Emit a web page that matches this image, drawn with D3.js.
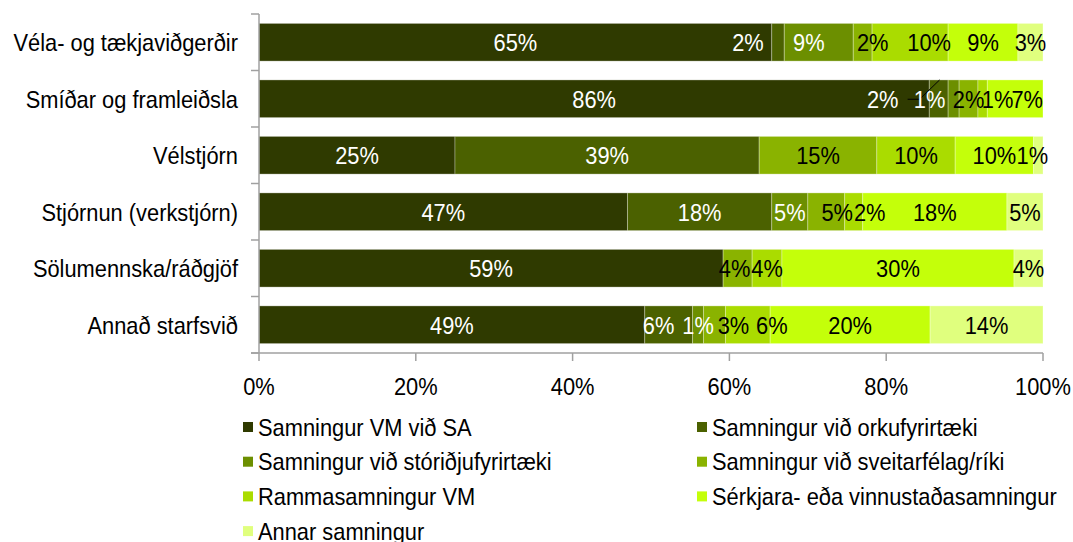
<!DOCTYPE html>
<html>
<head>
<meta charset="utf-8">
<script src="https://cdn.jsdelivr.net/npm/d3@7"></script>
<style>
body { margin: 0; background: #fff; }
svg { display: block; }
text { font-family: "Liberation Sans", Arial, sans-serif; }
</style>
</head>
<body>
<svg id="chart" width="1073" height="542"></svg>
<script>
// categories (top to bottom)
var categories = ["Véla- og tækjaviðgerðir", "Smíðar og framleiðsla", "Vélstjórn",
    "Stjórnun (verkstjórn)", "Sölumennska/ráðgjöf", "Annað starfsvið"];

// series, in stacking order (percent)
var seriesNames = ["Samningur VM við SA", "Samningur við orkufyrirtæki", "Samningur við stóriðjufyrirtæki",
    "Samningur við sveitarfélag/ríki", "Rammasamningur VM", "Sérkjara- eða vinnustaðasamningur", "Annar samningur"];
var vmSA     = [65.4, 85.5, 25.0, 47.0, 59.2, 49.2];
var orku     = [1.6, 2.4, 38.8, 18.4, 0, 6.1];
var storidju = [8.8, 1.4, 0, 4.6, 0, 1.4];
var sveitar  = [2.4, 2.4, 15.0, 4.7, 3.7, 2.8];
var ramma    = [9.7, 1.2, 10.0, 2.3, 3.8, 5.7];
var serkjara = [8.9, 7.1, 10.0, 18.4, 29.6, 20.4];
var annar    = [3.2, 0, 1.2, 4.6, 3.7, 14.4];
var xTicks = [0, 20, 40, 60, 80, 100];

// styling
var colors = ["#2f3a00", "#4b6100", "#6c8f00", "#8ab300", "#aadc00", "#c4ff0a", "#e0ff7e"];
var labelColors = ["#fff", "#fff", "#fff", "#000", "#000", "#000", "#000"];
// manual nudges of the data labels (px), like the hand-moved labels in the original
var labelNudge = [
    [0, -30, -10, 10, 19, 0, 0],
    [0, -56, -24, 0, 15, 12, 0],
    [0, 0, 0, 0, 0, 0, -6],
    [0, 0, 0, 11, 16, 0, 0],
    [0, 0, 0, -3, 0, 0, 0],
    [0, -10, 0, 19, 24, 0, 0]
];

var allSeries = [vmSA, orku, storidju, sveitar, ramma, serkjara, annar];
var rows = categories.map(function(c, i) {
    var r = {cat: c, idx: i};
    seriesNames.forEach(function(s, j) { r[s] = allSeries[j][i]; });
    return r;
});
var stacked = d3.stack().keys(seriesNames)(rows);

var svg = d3.select("#chart");
var x = d3.scaleLinear().domain([0, 100]).range([259, 1043]);
var y = d3.scaleBand().domain(categories).range([14, 353]).paddingInner(0.333).paddingOuter(0.1667);

function txt(g, tx, ty, str, anchor, fill) {
    return g.append("text")
        .attr("transform", "translate(" + tx + "," + ty + ") scale(0.91,1)")
        .attr("text-anchor", anchor)
        .attr("fill", fill)
        .style("font-size", "24px")
        .text(str);
}

// bars
var layers = svg.append("g").selectAll("g")
    .data(stacked)
    .enter().append("g")
    .attr("fill", function(d, i) { return colors[i]; });

layers.selectAll("rect")
    .data(function(d) { return d; })
    .enter().append("rect")
    .attr("x", function(d) { return x(d[0]); })
    .attr("y", function(d) { return y(d.data.cat); })
    .attr("width", function(d) { return x(d[1]) - x(d[0]); })
    .attr("height", y.bandwidth())
    .attr("stroke", "rgba(255,255,255,0.3)")
    .attr("stroke-width", 1);

// axes
var axisColor = "#a0a0a0";
var ax = svg.append("g");
ax.append("line").attr("x1", x(0)).attr("x2", x(0)).attr("y1", 14).attr("y2", 353)
    .attr("stroke", axisColor).attr("stroke-width", 1.5);
ax.append("line").attr("x1", x(0) - 8).attr("x2", x(100)).attr("y1", 353).attr("y2", 353)
    .attr("stroke", axisColor).attr("stroke-width", 1.5);
var step = y.step();
d3.range(categories.length + 1).forEach(function(i) {
    var yy = 14 + i * (339 / categories.length);
    ax.append("line").attr("x1", x(0) - 8).attr("x2", x(0)).attr("y1", yy).attr("y2", yy)
        .attr("stroke", axisColor).attr("stroke-width", 1.5);
});
xTicks.forEach(function(t) {
    ax.append("line").attr("x1", x(t)).attr("x2", x(t)).attr("y1", 353).attr("y2", 361)
        .attr("stroke", axisColor).attr("stroke-width", 1.5);
    txt(ax, x(t), 395, t + "%", "middle", "#000");
});
categories.forEach(function(c) {
    txt(ax, 238, y(c) + y.bandwidth() / 2 + 9, c, "end", "#000");
});

// data labels
var lab = svg.append("g");
stacked.forEach(function(layer, j) {
    layer.forEach(function(d) {
        var v = d[1] - d[0];
        if (v <= 0) return;
        var i = d.data.idx;
        var lx = (x(d[0]) + x(d[1])) / 2 + labelNudge[i][j];
        var cy = y(d.data.cat) + y.bandwidth() / 2;
        if (i === 1 && j === 2) {
            // leader line for the moved label
            lab.append("path")
                .attr("d", "M" + (lx - 22) + "," + (cy + 0.5) + "H" + (lx - 10) + "L" + (lx + 10) + "," + y(d.data.cat))
                .attr("fill", "none").attr("stroke", "#000").attr("stroke-width", 1);
        }
        txt(lab, lx, cy + 9, Math.round(v) + "%", "middle", labelColors[j]);
    });
});

// legend
var leg = svg.append("g");
seriesNames.forEach(function(s, i) {
    var lx = i % 2 === 0 ? 243 : 697;
    var ly = 427 + Math.floor(i / 2) * 34.7;
    leg.append("rect").attr("x", lx).attr("y", ly - 5).attr("width", 10).attr("height", 10).attr("fill", colors[i]);
    txt(leg, lx + 15, ly + 8.5, s, "start", "#000");
});
</script>
</body>
</html>
